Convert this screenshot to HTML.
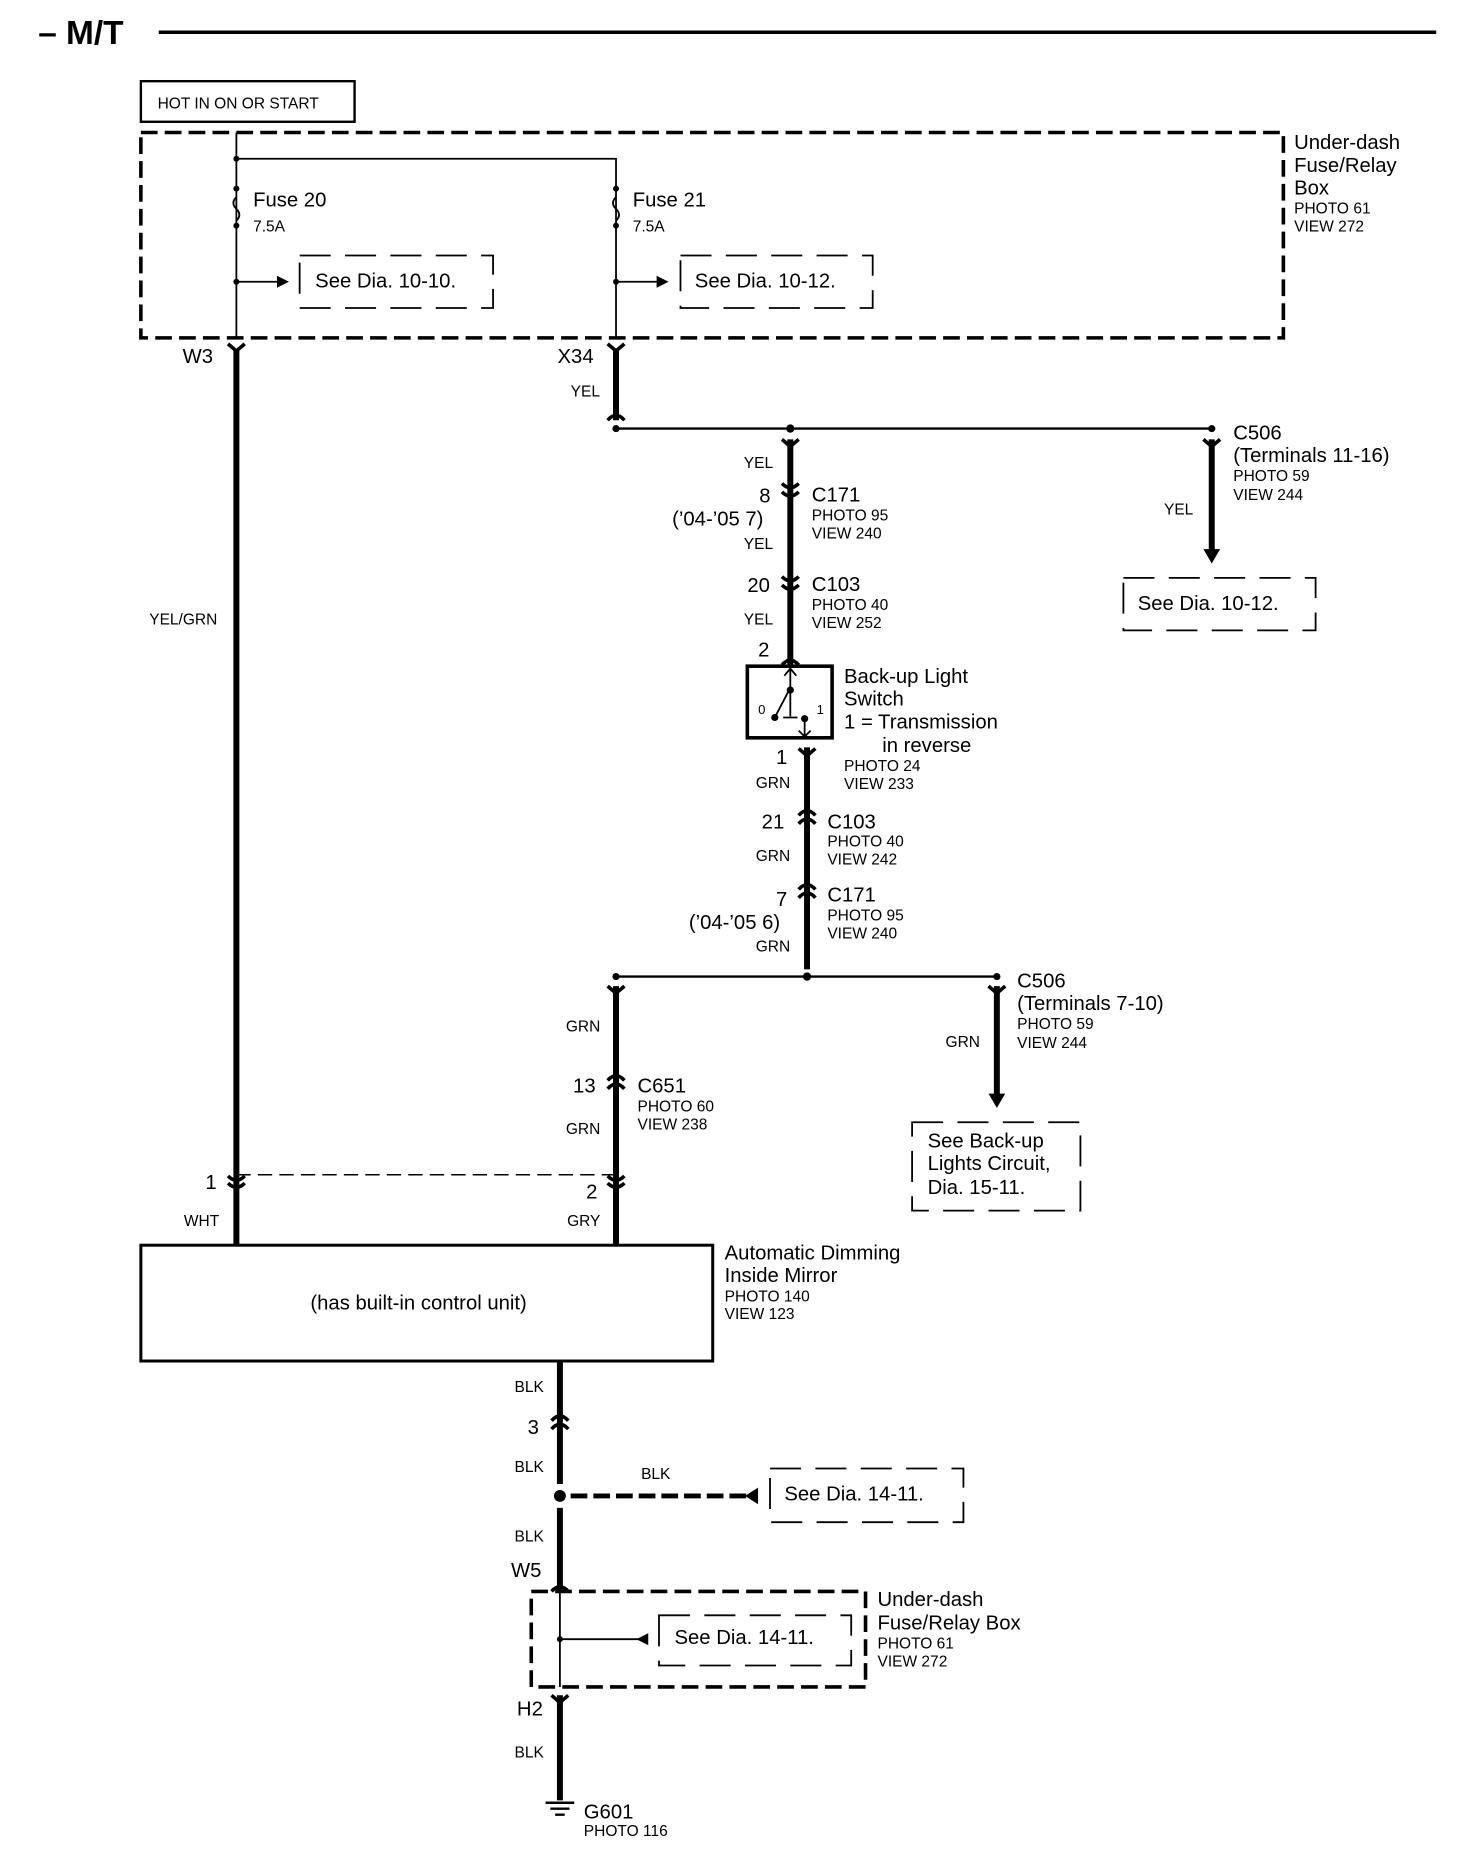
<!DOCTYPE html>
<html><head><meta charset="utf-8"><style>
html,body{margin:0;padding:0;background:#fff}
svg{display:block}
text{font-family:"Liberation Sans",Arial,sans-serif;fill:#000}
.m{font-size:17px}.s{font-size:13px}
</style></head><body>
<svg width="1472" height="1872" viewBox="0 0 1233 1568" preserveAspectRatio="none" xmlns="http://www.w3.org/2000/svg">
<g fill="none" stroke="#000">
<line x1="133" y1="27" x2="1203" y2="27" stroke-width="3"/>
<rect x="118" y="68" width="179" height="34" stroke-width="2"/>
<rect x="118" y="111" width="957" height="172" stroke-width="3" stroke-dasharray="14 6"/>
<path d="M198 111 V283 M198 133 H516 V283" stroke-width="1.5"/>
<path d="M198 236 H232 M516 236 H550" stroke-width="1.5"/>
<rect x="251" y="214" width="162" height="44" stroke-width="1.5" stroke-dasharray="26 12"/>
<rect x="570" y="214" width="161" height="44" stroke-width="1.5" stroke-dasharray="26 12"/>
<path d="M198 292 V1043 M516 292 V352 M662 368 V557 M1015 368 V462 M676 626 V812 M516 826 V1043 M835 826 V918 M469 1140 V1243 M469 1263 V1333 M469 1420 V1508" stroke-width="5"/>
<path d="M516 359 H1015 M516 818 H835" stroke-width="2"/>
<path d="M198 984 H516" stroke-width="1.2" stroke-dasharray="12 6"/>
<path d="M478 1253 H625" stroke-width="4" stroke-dasharray="14 5"/>
<rect x="645" y="1230" width="162" height="45" stroke-width="1.5" stroke-dasharray="26 12"/>
<rect x="445" y="1333" width="280" height="80" stroke-width="3" stroke-dasharray="14 6"/>
<path d="M469 1333 V1413 M469 1373 H535" stroke-width="1.5"/>
<rect x="552" y="1353" width="161" height="42" stroke-width="1.5" stroke-dasharray="26 12"/>
<rect x="941" y="484" width="161" height="44" stroke-width="1.5" stroke-dasharray="26 12"/>
<rect x="764" y="940" width="141" height="74" stroke-width="1.5" stroke-dasharray="26 12"/>
<rect x="626" y="558" width="71" height="60" stroke-width="3"/>
<rect x="118" y="1043" width="479" height="97" stroke-width="2.5"/>
<path d="M198 165 q-5 5 0 10 q5 5 0 10 M516 165 q-5 5 0 10 q5 5 0 10" stroke-width="1.5"/>
<g stroke-width="3">
<path d="M191 288 L198 294 L205 288 M509 288 L516 294 L523 288"/>
<path d="M509 352 Q516 344 523 352 M655 368 L662 374 L669 368 M1008 368 L1015 374 L1022 368"/>
<path d="M655 405 Q662 412 669 405 M655 412 Q662 419 669 412 M655 483 Q662 490 669 483 M655 490 Q662 497 669 490 M655 557 Q662 549 669 557"/>
<path d="M669 627 L676 633 L683 627 M669 690 Q676 682 683 690 M669 683 Q676 675 683 683 M669 752 Q676 744 683 752 M669 745 Q676 737 683 745"/>
<path d="M509 826 L516 832 L523 826 M828 826 L835 832 L842 826 M509 912 Q516 904 523 912 M509 905 Q516 897 523 905"/>
<path d="M191 985 Q198 992 205 985 M191 991 Q198 998 205 991 M509 985 Q516 992 523 985 M509 991 Q516 998 523 991"/>
<path d="M462 1197 Q469 1189 476 1197 M462 1190 Q469 1182 476 1190 M462 1333 Q469 1325 476 1333 M462 1420 L469 1426 L476 1420"/>
</g>
<path d="M662 558 V600 M649 601 L661 578 M656 601 H668 M674 602 V617 M657 566 L662 560 L667 566 M669 612 L674 617 L679 612" stroke-width="1.5"/>
<path d="M457 1510 H481 M461 1515 H477 M465 1520 H473" stroke-width="2"/>
</g>
<g fill="#000">
<circle cx="198" cy="133" r="2.5"/><circle cx="198" cy="158" r="2.5"/><circle cx="198" cy="189" r="2.5"/><circle cx="198" cy="236" r="2.5"/>
<circle cx="516" cy="158" r="2.5"/><circle cx="516" cy="189" r="2.5"/><circle cx="516" cy="236" r="2.5"/>
<circle cx="516" cy="359" r="3"/><circle cx="662" cy="359" r="3.5"/><circle cx="1015" cy="359" r="3"/>
<circle cx="676" cy="818" r="3.5"/><circle cx="516" cy="818" r="3"/><circle cx="835" cy="818" r="3"/>
<circle cx="469" cy="1253" r="5"/><circle cx="469" cy="1373" r="2.5"/>
<circle cx="662" cy="578" r="3"/><circle cx="649" cy="601" r="3"/><circle cx="674" cy="602" r="3"/>
<path d="M232 231 L242 236 L232 241Z M550 231 L560 236 L550 241Z M1008 460 L1015 472 L1022 460Z M828 916 L835 928 L842 916Z M635 1246 L624 1253 L635 1260Z M543 1368 L533 1373 L543 1378Z"/>
</g>
<text x="32" y="37" style="font-size:28px;font-weight:bold">– M/T</text>
<text x="132" y="91" class="s">HOT IN ON OR START</text>
<text x="1084" y="125" class="m">Under-dash</text><text x="1084" y="144" class="m">Fuse/Relay</text><text x="1084" y="163" class="m">Box</text>
<text x="1084" y="179" class="s">PHOTO 61</text><text x="1084" y="194" class="s">VIEW 272</text>
<text x="212" y="173" class="m">Fuse 20</text><text x="212" y="194" class="s">7.5A</text>
<text x="530" y="173" class="m">Fuse 21</text><text x="530" y="194" class="s">7.5A</text>
<text x="264" y="241" class="m">See Dia. 10-10.</text><text x="582" y="241" class="m">See Dia. 10-12.</text>
<text x="153" y="304" class="m">W3</text><text x="467" y="304" class="m">X34</text>
<text x="478" y="332" class="s">YEL</text>
<text x="623" y="392" class="s">YEL</text>
<text x="636" y="421" class="m">8</text><text x="563" y="440" class="m">(’04-’05 7)</text><text x="623" y="460" class="s">YEL</text>
<text x="680" y="420" class="m">C171</text><text x="680" y="436" class="s">PHOTO 95</text><text x="680" y="451" class="s">VIEW 240</text>
<text x="626" y="496" class="m">20</text><text x="680" y="495" class="m">C103</text><text x="680" y="511" class="s">PHOTO 40</text><text x="680" y="526" class="s">VIEW 252</text>
<text x="623" y="523" class="s">YEL</text><text x="635" y="550" class="m">2</text>
<text x="635" y="598" style="font-size:11px">0</text><text x="684" y="598" style="font-size:11px">1</text>
<text x="707" y="572" class="m">Back-up Light</text><text x="707" y="591" class="m">Switch</text><text x="707" y="610" class="m">1 = Transmission</text><text x="739" y="630" class="m">in reverse</text>
<text x="707" y="646" class="s">PHOTO 24</text><text x="707" y="661" class="s">VIEW 233</text>
<text x="650" y="640" class="m">1</text><text x="633" y="660" class="s">GRN</text>
<text x="638" y="694" class="m">21</text><text x="693" y="694" class="m">C103</text><text x="693" y="709" class="s">PHOTO 40</text><text x="693" y="724" class="s">VIEW 242</text>
<text x="633" y="721" class="s">GRN</text>
<text x="650" y="759" class="m">7</text><text x="577" y="778" class="m">(’04-’05 6)</text><text x="633" y="797" class="s">GRN</text>
<text x="693" y="755" class="m">C171</text><text x="693" y="771" class="s">PHOTO 95</text><text x="693" y="786" class="s">VIEW 240</text>
<text x="1033" y="368" class="m">C506</text><text x="1033" y="387" class="m">(Terminals 11-16)</text><text x="1033" y="403" class="s">PHOTO 59</text><text x="1033" y="419" class="s">VIEW 244</text>
<text x="975" y="431" class="s">YEL</text><text x="953" y="511" class="m">See Dia. 10-12.</text>
<text x="125" y="523" class="s">YEL/GRN</text>
<text x="852" y="827" class="m">C506</text><text x="852" y="846" class="m">(Terminals 7-10)</text><text x="852" y="862" class="s">PHOTO 59</text><text x="852" y="878" class="s">VIEW 244</text>
<text x="792" y="877" class="s">GRN</text>
<text x="777" y="961" class="m">See Back-up</text><text x="777" y="980" class="m">Lights Circuit,</text><text x="777" y="1000" class="m">Dia. 15-11.</text>
<text x="474" y="864" class="s">GRN</text>
<text x="480" y="915" class="m">13</text><text x="534" y="915" class="m">C651</text><text x="534" y="931" class="s">PHOTO 60</text><text x="534" y="946" class="s">VIEW 238</text>
<text x="474" y="950" class="s">GRN</text>
<text x="172" y="996" class="m">1</text><text x="491" y="1004" class="m">2</text>
<text x="154" y="1027" class="s">WHT</text><text x="475" y="1027" class="s">GRY</text>
<text x="260" y="1097" class="m">(has built-in control unit)</text>
<text x="607" y="1055" class="m">Automatic Dimming</text><text x="607" y="1074" class="m">Inside Mirror</text><text x="607" y="1090" class="s">PHOTO 140</text><text x="607" y="1105" class="s">VIEW 123</text>
<text x="431" y="1166" class="s">BLK</text><text x="442" y="1201" class="m">3</text><text x="431" y="1233" class="s">BLK</text>
<text x="537" y="1239" class="s">BLK</text><text x="657" y="1257" class="m">See Dia. 14-11.</text>
<text x="431" y="1291" class="s">BLK</text><text x="428" y="1321" class="m">W5</text>
<text x="565" y="1377" class="m">See Dia. 14-11.</text>
<text x="735" y="1345" class="m">Under-dash</text><text x="735" y="1365" class="m">Fuse/Relay Box</text><text x="735" y="1381" class="s">PHOTO 61</text><text x="735" y="1396" class="s">VIEW 272</text>
<text x="433" y="1437" class="m">H2</text><text x="431" y="1472" class="s">BLK</text>
<text x="489" y="1523" class="m">G601</text><text x="489" y="1538" class="s">PHOTO 116</text>
</svg>
</body></html>
